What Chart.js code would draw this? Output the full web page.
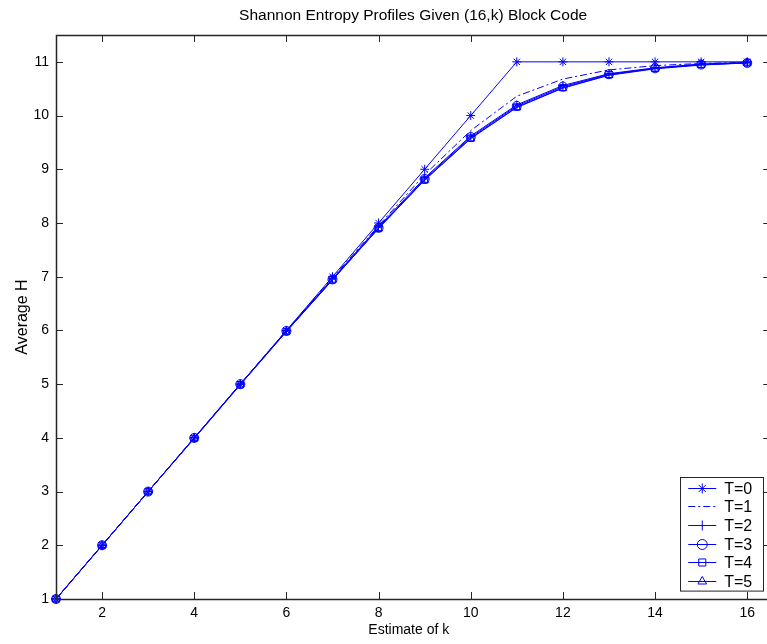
<!DOCTYPE html>
<html>
<head>
<meta charset="utf-8">
<script src="https://cdn.jsdelivr.net/npm/chart.js@4.4.1/dist/chart.umd.min.js"></script>
<style>
  body { margin: 0; background: #fff; overflow: hidden; }
  canvas { display: block; }
</style>
</head>
<body>
<canvas id="entropyChart" width="767" height="644"></canvas>
<script>
const ks = [1, 2, 3, 4, 5, 6, 7, 8, 9, 10, 11, 12, 13, 14, 15, 16];
const t0 = [1, 2, 3, 4, 5, 6, 7, 8, 9, 10, 11, 11, 11, 11, 11, 11];
const t1 = [1, 2, 3, 4, 5, 6, 6.98, 7.95, 8.9, 9.72, 10.36, 10.68, 10.85, 10.93, 10.97, 10.99];
const t2 = [1, 2, 3, 4, 5, 5.99, 6.96, 7.93, 8.84, 9.62, 10.2, 10.56, 10.78, 10.89, 10.96, 10.99];
const t3 = [1, 2, 3, 4, 5, 5.99, 6.95, 7.91, 8.82, 9.6, 10.18, 10.54, 10.77, 10.88, 10.95, 10.98];
const t4 = [1, 2, 3, 3.99, 4.99, 5.98, 6.94, 7.9, 8.8, 9.58, 10.16, 10.52, 10.76, 10.88, 10.95, 10.98];
const t5 = [1, 2, 3, 3.99, 4.99, 5.98, 6.94, 7.9, 8.8, 9.57, 10.15, 10.51, 10.75, 10.87, 10.94, 10.98];
const xTicks = [2, 4, 6, 8, 10, 12, 14, 16];
const yTicks = [1, 2, 3, 4, 5, 6, 7, 8, 9, 10, 11];
const xEnd = 16.5; // real end of the axes box, cut off by the window

const blue = '#0000ff';
const fam = 'Liberation Sans, Arial, sans-serif';
const tickFont = { family: fam, size: 14 };
const titleText = 'Shannon Entropy Profiles Given (16,k) Block Code';

function series(label, vals, style, dash) {
  return {
    label: label,
    data: ks.map((k, i) => ({ x: k, y: vals[i] })),
    borderColor: blue,
    backgroundColor: 'rgba(0,0,0,0)',
    borderWidth: 1,
    borderDash: dash || [],
    pointStyle: style,
    pointRadius: style ? 4.5 : 0,
    pointBorderColor: blue,
    pointBorderWidth: 1,
    pointBackgroundColor: 'rgba(0,0,0,0)',
    tension: 0,
    clip: false
  };
}

// matlab style box with inward ticks on all four sides, plus the title centred over it
const boxPlugin = {
  id: 'box',
  afterDraw(chart) {
    const { ctx, chartArea: a, scales } = chart;
    const right = scales.x.getPixelForValue(xEnd);
    ctx.save();
    ctx.strokeStyle = '#262626';
    ctx.lineWidth = 1;
    ctx.beginPath();
    xTicks.forEach(v => {
      const px = Math.round(scales.x.getPixelForValue(v)) + 0.5;
      ctx.moveTo(px, a.bottom); ctx.lineTo(px, a.bottom - 7);
      ctx.moveTo(px, a.top); ctx.lineTo(px, a.top + 7);
    });
    yTicks.forEach(v => {
      const py = Math.round(scales.y.getPixelForValue(v)) + 0.5;
      ctx.moveTo(a.left, py); ctx.lineTo(a.left + 7, py);
      ctx.moveTo(right, py); ctx.lineTo(right - 7, py);
    });
    ctx.stroke();
    ctx.lineWidth = 1.5;
    ctx.strokeRect(Math.round(a.left) + 0.5, Math.round(a.top) + 0.5, right - a.left, a.bottom - a.top);
    ctx.fillStyle = '#000';
    ctx.font = '15.5px ' + fam;
    ctx.textAlign = 'center';
    ctx.textBaseline = 'middle';
    ctx.fillText(titleText, (a.left + right) / 2, 16);
    ctx.restore();
  }
};

// legend box inside the axes, lower right
const legendPlugin = {
  id: 'matLegend',
  afterDraw(chart) {
    const { ctx, chartArea: a, scales } = chart;
    const right = scales.x.getPixelForValue(xEnd);
    const sets = chart.data.datasets;
    const bw = 83, rowH = 18.6;
    const bh = rowH * sets.length + 2;
    const bx = right - 7 - bw, by = a.bottom - 8 - bh;
    ctx.save();
    ctx.fillStyle = '#fff';
    ctx.fillRect(bx, by, bw, bh);
    ctx.strokeStyle = '#262626';
    ctx.lineWidth = 1;
    ctx.strokeRect(Math.round(bx) + 0.5, Math.round(by) + 0.5, bw, bh);
    ctx.font = '16px ' + fam;
    ctx.textBaseline = 'middle';
    sets.forEach((ds, i) => {
      const cy = Math.round(by + 1 + rowH * (i + 0.5)) + 0.5;
      ctx.strokeStyle = blue;
      ctx.lineWidth = 1;
      ctx.setLineDash(ds.borderDash);
      ctx.beginPath();
      ctx.moveTo(bx + 8, cy); ctx.lineTo(bx + 36, cy);
      ctx.stroke();
      ctx.setLineDash([]);
      if (ds.pointStyle) {
        ctx.fillStyle = 'rgba(0,0,0,0)';
        ctx.strokeStyle = blue;
        Chart.helpers.drawPoint(ctx, { pointStyle: ds.pointStyle, radius: 5, borderWidth: 1, rotation: 0 }, bx + 22, cy);
      }
      ctx.fillStyle = '#000';
      ctx.fillText(ds.label, bx + 44, cy + 1);
    });
    ctx.restore();
  }
};

const entropyChart = new Chart(document.getElementById('entropyChart'), {
  type: 'line',
  data: {
    datasets: [
      series('T=0', t0, 'star'),
      series('T=1', t1, false, [7, 3, 2, 3]),
      series('T=2', t2, 'cross'),
      series('T=3', t3, 'circle'),
      series('T=4', t4, 'rect'),
      series('T=5', t5, 'triangle')
    ]
  },
  options: {
    responsive: false,
    animation: false,
    layout: { padding: { left: 0, top: 35, bottom: 0, right: 0 } },
    plugins: {
      legend: { display: false },
      tooltip: { enabled: false },
      title: { display: false }
    },
    scales: {
      x: {
        type: 'linear',
        min: 1,
        max: 16.31,
        afterBuildTicks: s => { s.ticks = xTicks.map(v => ({ value: v })); },
        afterFit: s => { s.height = 45; },
        grid: { display: false, drawTicks: false },
        border: { display: false },
        ticks: { color: '#000', font: tickFont, padding: 6 },
        title: { display: true, text: 'Estimate of k', color: '#000', font: { family: fam, size: 14 }, padding: { top: 0, bottom: 5 } }
      },
      y: {
        type: 'linear',
        min: 1,
        max: 11.5,
        afterBuildTicks: s => { s.ticks = yTicks.map(v => ({ value: v })); },
        afterFit: s => { s.width = 56; },
        grid: { display: false, drawTicks: false },
        border: { display: false },
        ticks: { color: '#000', font: tickFont, padding: 7 },
        title: { display: true, text: 'Average H', color: '#000', font: { family: fam, size: 16 }, padding: { top: 13, bottom: 0 } }
      }
    }
  },
  plugins: [boxPlugin, legendPlugin]
});
</script>
</body>
</html>
